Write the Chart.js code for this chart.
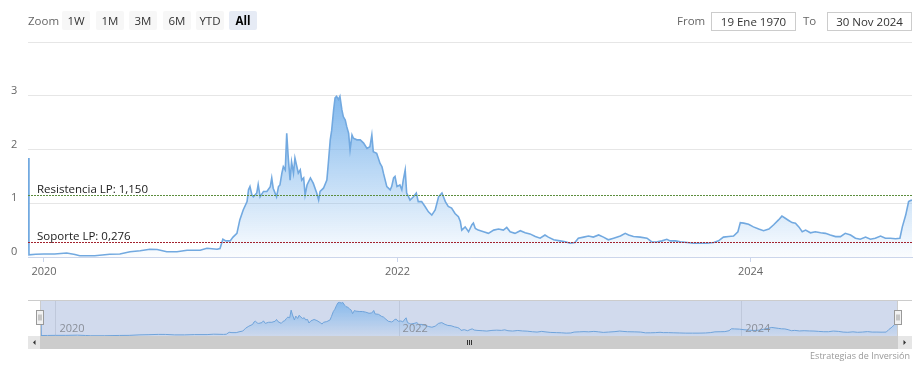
<!DOCTYPE html>
<html><head><meta charset="utf-8">
<script src="https://cdn.jsdelivr.net/npm/chart.js@4.4.1/dist/chart.umd.min.js"></script>
<style>
html,body{margin:0;padding:0;background:#fff;}
#wrap{position:relative;width:921px;height:366px;overflow:hidden;font-family:'Open Sans',sans-serif;}
#wrap canvas{position:absolute;left:0;}
.lbl{position:absolute;top:11px;height:19px;line-height:19px;font-size:11.5px;color:#666;}
.btn{position:absolute;top:11px;height:19px;line-height:19px;width:28px;text-align:center;background:#f7f7f7;color:#333;font-size:11.5px;border-radius:2px;}
.btn.sel{background:#e6ebf5;font-weight:bold;color:#000;}
.inp{position:absolute;top:12px;height:19px;box-sizing:border-box;border:1px solid #cccccc;line-height:17px;text-align:center;font-size:11.5px;color:#333;background:#fff;}
.credit{position:absolute;right:11px;top:349px;font-size:9px;color:#999;}
</style></head>
<body>
<div id="wrap">
  <canvas id="main" width="921" height="290" style="top:0"></canvas>
  <canvas id="nav" width="921" height="76" style="top:290px"></canvas>
  <div class="lbl" style="left:28px">Zoom</div>
  <div class="btn" style="left:62px">1W</div>
  <div class="btn" style="left:96px">1M</div>
  <div class="btn" style="left:129px">3M</div>
  <div class="btn" style="left:163px">6M</div>
  <div class="btn" style="left:196px">YTD</div>
  <div class="btn sel" style="left:229px">All</div>
  <div class="lbl" style="left:677px">From</div>
  <div class="inp" style="left:711px;width:85px">19 Ene 1970</div>
  <div class="lbl" style="left:803px">To</div>
  <div class="inp" style="left:827px;width:85px">30 Nov 2024</div>
  <div class="credit">Estrategias de Inversión</div>
</div>
<script>
const dates = [
 '2019-11-29','2019-12-01','2019-12-15','2020-01-01','2020-01-23','2020-02-17','2020-03-05','2020-03-15','2020-04-15','2020-05-16',
 '2020-06-06','2020-06-27','2020-07-18','2020-08-07','2020-08-22','2020-09-11','2020-10-02','2020-10-23','2020-11-19','2020-12-03',
 '2020-12-24','2020-12-30','2021-01-05','2021-01-11','2021-01-20','2021-01-26','2021-02-03','2021-02-09','2021-02-16','2021-02-24',
 '2021-02-27','2021-03-02','2021-03-06','2021-03-09','2021-03-16','2021-03-19','2021-03-23','2021-03-30','2021-04-06','2021-04-13',
 '2021-04-16','2021-04-19','2021-04-26','2021-04-30','2021-05-03','2021-05-07','2021-05-10','2021-05-14','2021-05-17','2021-05-20',
 '2021-05-24','2021-05-27','2021-05-31','2021-06-03','2021-06-07','2021-06-10','2021-06-14','2021-06-17','2021-06-21','2021-06-24',
 '2021-06-28','2021-07-05','2021-07-11','2021-07-18','2021-07-22','2021-07-25','2021-08-01','2021-08-08','2021-08-11','2021-08-15',
 '2021-08-18','2021-08-22','2021-08-25','2021-08-28','2021-09-01','2021-09-04','2021-09-08','2021-09-11','2021-09-15','2021-09-18',
 '2021-09-22','2021-09-25','2021-09-29','2021-10-02','2021-10-09','2021-10-16','2021-10-23','2021-10-30','2021-11-05','2021-11-09',
 '2021-11-12','2021-11-19','2021-11-26','2021-11-30','2021-12-03','2021-12-10','2021-12-17','2021-12-20','2021-12-24','2021-12-27',
 '2021-12-31','2022-01-06','2022-01-10','2022-01-13','2022-01-17','2022-01-20','2022-01-24','2022-01-27','2022-02-03','2022-02-09',
 '2022-02-13','2022-02-20','2022-02-27','2022-03-06','2022-03-13','2022-03-20','2022-03-27','2022-04-03','2022-04-10','2022-04-16',
 '2022-04-23','2022-04-30','2022-05-07','2022-05-11','2022-05-14','2022-05-21','2022-05-28','2022-06-04','2022-06-07','2022-06-11',
 '2022-06-17','2022-06-28','2022-07-08','2022-07-19','2022-07-29','2022-08-08','2022-08-15','2022-08-22','2022-09-01','2022-09-12',
 '2022-09-22','2022-10-02','2022-10-13','2022-10-23','2022-11-02','2022-11-09','2022-11-20','2022-12-03','2022-12-14','2022-12-24',
 '2023-01-03','2023-01-10','2023-01-21','2023-01-31','2023-02-10','2023-02-21','2023-03-03','2023-03-13','2023-03-24','2023-04-07',
 '2023-04-17','2023-04-24','2023-05-04','2023-05-18','2023-06-01','2023-06-11','2023-06-22','2023-07-02','2023-07-12','2023-07-19',
 '2023-07-30','2023-08-09','2023-08-23','2023-09-05','2023-09-19','2023-10-03','2023-10-17','2023-10-27','2023-11-06','2023-11-17',
 '2023-11-27','2023-12-06','2023-12-11','2023-12-18','2023-12-28','2024-01-07','2024-01-18','2024-01-28','2024-02-08','2024-02-18',
 '2024-02-28','2024-03-06','2024-03-13','2024-03-20','2024-03-27','2024-04-03','2024-04-10','2024-04-17','2024-04-24','2024-05-04',
 '2024-05-14','2024-05-25','2024-06-04','2024-06-14','2024-06-25','2024-07-05','2024-07-15','2024-07-26','2024-08-05','2024-08-15',
 '2024-08-26','2024-09-05','2024-09-15','2024-09-26','2024-10-06','2024-10-16','2024-10-27','2024-11-05','2024-11-10','2024-11-17',
 '2024-11-23','2024-11-27','2024-11-30'
];
const prices = [
 1.84,0.04,0.05,0.056,0.056,0.074,0.047,0.024,0.024,0.05,
 0.056,0.099,0.117,0.143,0.14,0.099,0.099,0.125,0.125,0.162,
 0.143,0.158,0.33,0.30,0.30,0.37,0.44,0.69,0.875,1.03,
 1.25,1.31,1.155,1.12,1.19,1.35,1.12,1.22,1.22,1.31,
 1.47,1.28,1.12,1.31,1.34,1.56,1.68,1.62,2.30,1.87,
 1.43,1.77,1.56,1.84,1.68,1.56,1.62,1.43,1.47,1.155,
 1.34,1.47,1.37,1.19,1.06,1.22,1.28,1.43,1.74,2.18,
 2.36,2.74,2.96,2.99,2.93,2.99,2.74,2.61,2.55,2.43,
 2.30,1.99,2.27,2.21,2.18,2.18,2.12,2.02,2.05,2.27,
 1.96,1.93,1.74,1.68,1.56,1.31,1.25,1.31,1.47,1.50,
 1.31,1.34,1.25,1.43,1.62,1.19,1.12,1.06,1.12,1.19,
 1.03,1.03,0.94,0.84,0.78,0.875,1.12,1.19,1.03,0.94,
 0.91,0.81,0.75,0.66,0.50,0.56,0.47,0.60,0.63,0.53,
 0.50,0.47,0.44,0.50,0.52,0.50,0.55,0.47,0.44,0.49,
 0.45,0.43,0.38,0.35,0.41,0.37,0.32,0.30,0.285,0.255,
 0.27,0.35,0.37,0.39,0.37,0.41,0.37,0.32,0.35,0.39,
 0.44,0.41,0.38,0.37,0.35,0.28,0.285,0.30,0.33,0.30,
 0.30,0.285,0.27,0.255,0.255,0.255,0.27,0.30,0.37,0.38,
 0.39,0.47,0.64,0.63,0.61,0.56,0.52,0.49,0.52,0.60,
 0.69,0.76,0.72,0.68,0.64,0.63,0.56,0.47,0.50,0.45,
 0.47,0.45,0.44,0.41,0.38,0.38,0.44,0.41,0.35,0.33,
 0.37,0.33,0.35,0.39,0.35,0.35,0.34,0.35,0.56,0.78,
 1.03,1.05,1.06
];
const yTickValues = [0, 1, 2, 3, 4];
const yTickLabels = ['0', '1', '2', '3', ''];
const xTickYears = [2020, 2022, 2024];
const plotLineValues = [1.150, 0.276];
const plotLineLabels = ['Resistencia LP: 1,150', 'Soporte LP: 0,276'];

Chart.defaults.font.family = "'Open Sans', sans-serif";
const points = dates.map((d, i) => ({x: Date.parse(d), y: prices[i]}));
const xMin = points[0].x, xMax = points[points.length - 1].x;
const yearTicks = xTickYears.map(y => Date.UTC(y, 0, 1));
const maxPrice = Math.max(...prices);

function areaFill(c, a0, a1) {
  const chart = c.chart, a = chart.chartArea;
  if (!a) return 'rgba(124,181,236,0.3)';
  const top = chart.scales.y.getPixelForValue(maxPrice);
  const g = chart.ctx.createLinearGradient(0, top, 0, a.bottom);
  g.addColorStop(0, 'rgba(124,181,236,' + a0 + ')');
  g.addColorStop(1, 'rgba(124,181,236,' + a1 + ')');
  return g;
}

const plotLinesPlugin = {
  id: 'plotLines',
  afterDatasetsDraw(chart) {
    const {ctx, chartArea: a, scales: {y}} = chart;
    const colors = ['#5c8e3e', '#a3222d'];
    ctx.save();
    plotLineValues.forEach((v, i) => {
      const py = Math.round(y.getPixelForValue(v)) + 0.5;
      ctx.strokeStyle = colors[i];
      ctx.lineWidth = 1;
      ctx.setLineDash([2, 1]);
      ctx.beginPath(); ctx.moveTo(a.left, py); ctx.lineTo(a.right, py); ctx.stroke();
      ctx.setLineDash([]);
      ctx.fillStyle = '#1a1a1a';
      ctx.font = "11.5px 'Open Sans', sans-serif";
      ctx.textBaseline = 'alphabetic';
      ctx.textAlign = 'left';
      ctx.fillText(plotLineLabels[i], a.left + 9, py - 3);
    });
    ctx.restore();
  }
};

new Chart(document.getElementById('main'), {
  type: 'line',
  data: {datasets: [{
    data: points, borderColor: '#72a9e0', borderWidth: 1.6, pointRadius: 0, tension: 0,
    fill: 'origin', backgroundColor: c => areaFill(c, 0.95, 0.03)
  }]},
  options: {
    responsive: false, animation: false, events: [],
    layout: {padding: {left: 11, right: 9, top: 42, bottom: 0}},
    plugins: {legend: {display: false}, tooltip: {enabled: false}},
    scales: {
      x: {
        type: 'linear', min: xMin, max: xMax,
        afterBuildTicks: s => { s.ticks = yearTicks.map(v => ({value: v})); },
        afterFit: s => { s.height = 33; },
        ticks: {autoSkip: false, maxRotation: 0, padding: 3, color: '#666', font: {size: 11},
          callback: v => String(xTickYears[yearTicks.indexOf(v)])},
        grid: {drawOnChartArea: false, drawTicks: true, tickLength: 5, color: '#ccd6eb'},
        border: {display: true, color: '#ccd6eb'}
      },
      y: {
        min: 0, max: 4,
        afterBuildTicks: s => { s.ticks = yTickValues.map(v => ({value: v})); },
        afterFit: s => { s.width = 17; },
        ticks: {crossAlign: 'far', labelOffset: -5, padding: 0, color: '#666', font: {size: 11},
          callback: v => yTickLabels[yTickValues.indexOf(v)]},
        grid: {color: '#e6e6e6', drawTicks: false},
        border: {display: false}
      }
    }
  },
  plugins: [plotLinesPlugin]
});

const navPlugin = {
  id: 'navDecor',
  beforeDatasetsDraw(chart) {
    const {ctx, chartArea: a, scales: {x}} = chart;
    ctx.save();
    ctx.strokeStyle = '#e6e6e6'; ctx.lineWidth = 1;
    yearTicks.forEach(t => {
      const px = Math.round(x.getPixelForValue(t)) + 0.5;
      ctx.beginPath(); ctx.moveTo(px, a.top); ctx.lineTo(px, a.bottom); ctx.stroke();
    });
    ctx.fillStyle = 'rgba(102,133,194,0.3)';
    ctx.fillRect(a.left, a.top, a.right - a.left, a.bottom - a.top);
    ctx.restore();
  },
  afterDatasetsDraw(chart) {
    const {ctx, chartArea: a, scales: {x}} = chart;
    ctx.save();
    ctx.fillStyle = '#8a8f99';
    ctx.font = "11px 'Open Sans', sans-serif";
    ctx.textBaseline = 'middle'; ctx.textAlign = 'left';
    yearTicks.forEach((t, i) => {
      ctx.fillText(String(xTickYears[i]), x.getPixelForValue(t) + 4, a.bottom - 7);
    });
    // outline
    ctx.strokeStyle = '#cccccc'; ctx.lineWidth = 1;
    ctx.beginPath();
    ctx.moveTo(28, a.top + 0.5); ctx.lineTo(912, a.top + 0.5);
    ctx.moveTo(a.left + 0.5, a.top); ctx.lineTo(a.left + 0.5, a.bottom);
    ctx.moveTo(a.right - 0.5, a.top); ctx.lineTo(a.right - 0.5, a.bottom);
    ctx.stroke();
    // handles
    [a.left, a.right].forEach(hx => {
      const l = Math.round(hx - 4) + 0.5, t = a.top + 10.5;
      ctx.fillStyle = '#f2f2f2'; ctx.strokeStyle = '#999999';
      ctx.fillRect(l, t, 7, 14); ctx.strokeRect(l, t, 7, 14);
      ctx.beginPath();
      ctx.moveTo(l + 2.5, t + 4); ctx.lineTo(l + 2.5, t + 10);
      ctx.moveTo(l + 4.5, t + 4); ctx.lineTo(l + 4.5, t + 10);
      ctx.stroke();
    });
    // scrollbar
    const sy = a.bottom, sh = 13;
    ctx.fillStyle = '#f2f2f2'; ctx.fillRect(28, sy, 884, sh);
    ctx.fillStyle = '#e6e6e6'; ctx.fillRect(28, sy, 12, sh); ctx.fillRect(898, sy, 14, sh);
    ctx.fillStyle = '#cccccc'; ctx.fillRect(a.left, sy, a.right - a.left, sh);
    ctx.fillStyle = '#333';
    ctx.beginPath(); ctx.moveTo(33, sy + 6.5); ctx.lineTo(35.5, sy + 4); ctx.lineTo(35.5, sy + 9); ctx.closePath(); ctx.fill();
    ctx.beginPath(); ctx.moveTo(906, sy + 6.5); ctx.lineTo(903.5, sy + 4); ctx.lineTo(903.5, sy + 9); ctx.closePath(); ctx.fill();
    const cx = Math.round((a.left + a.right) / 2);
    ctx.strokeStyle = '#333'; ctx.lineWidth = 1;
    ctx.beginPath();
    [-2, 0, 2].forEach(d => { ctx.moveTo(cx + d + 0.5, sy + 4); ctx.lineTo(cx + d + 0.5, sy + 9); });
    ctx.stroke();
    ctx.restore();
  }
};

new Chart(document.getElementById('nav'), {
  type: 'line',
  data: {datasets: [{
    data: points, borderColor: '#6fa3da', borderWidth: 1, pointRadius: 0, tension: 0,
    fill: 'origin', backgroundColor: c => areaFill(c, 0.85, 0.05)
  }]},
  options: {
    responsive: false, animation: false, events: [],
    layout: {padding: {left: 40, right: 23, top: 10, bottom: 30}},
    plugins: {legend: {display: false}, tooltip: {enabled: false}},
    scales: {
      x: {type: 'linear', min: xMin, max: xMax, display: false},
      y: {min: 0, max: 3.2, display: false}
    }
  },
  plugins: [navPlugin]
});
</script>
</body></html>
